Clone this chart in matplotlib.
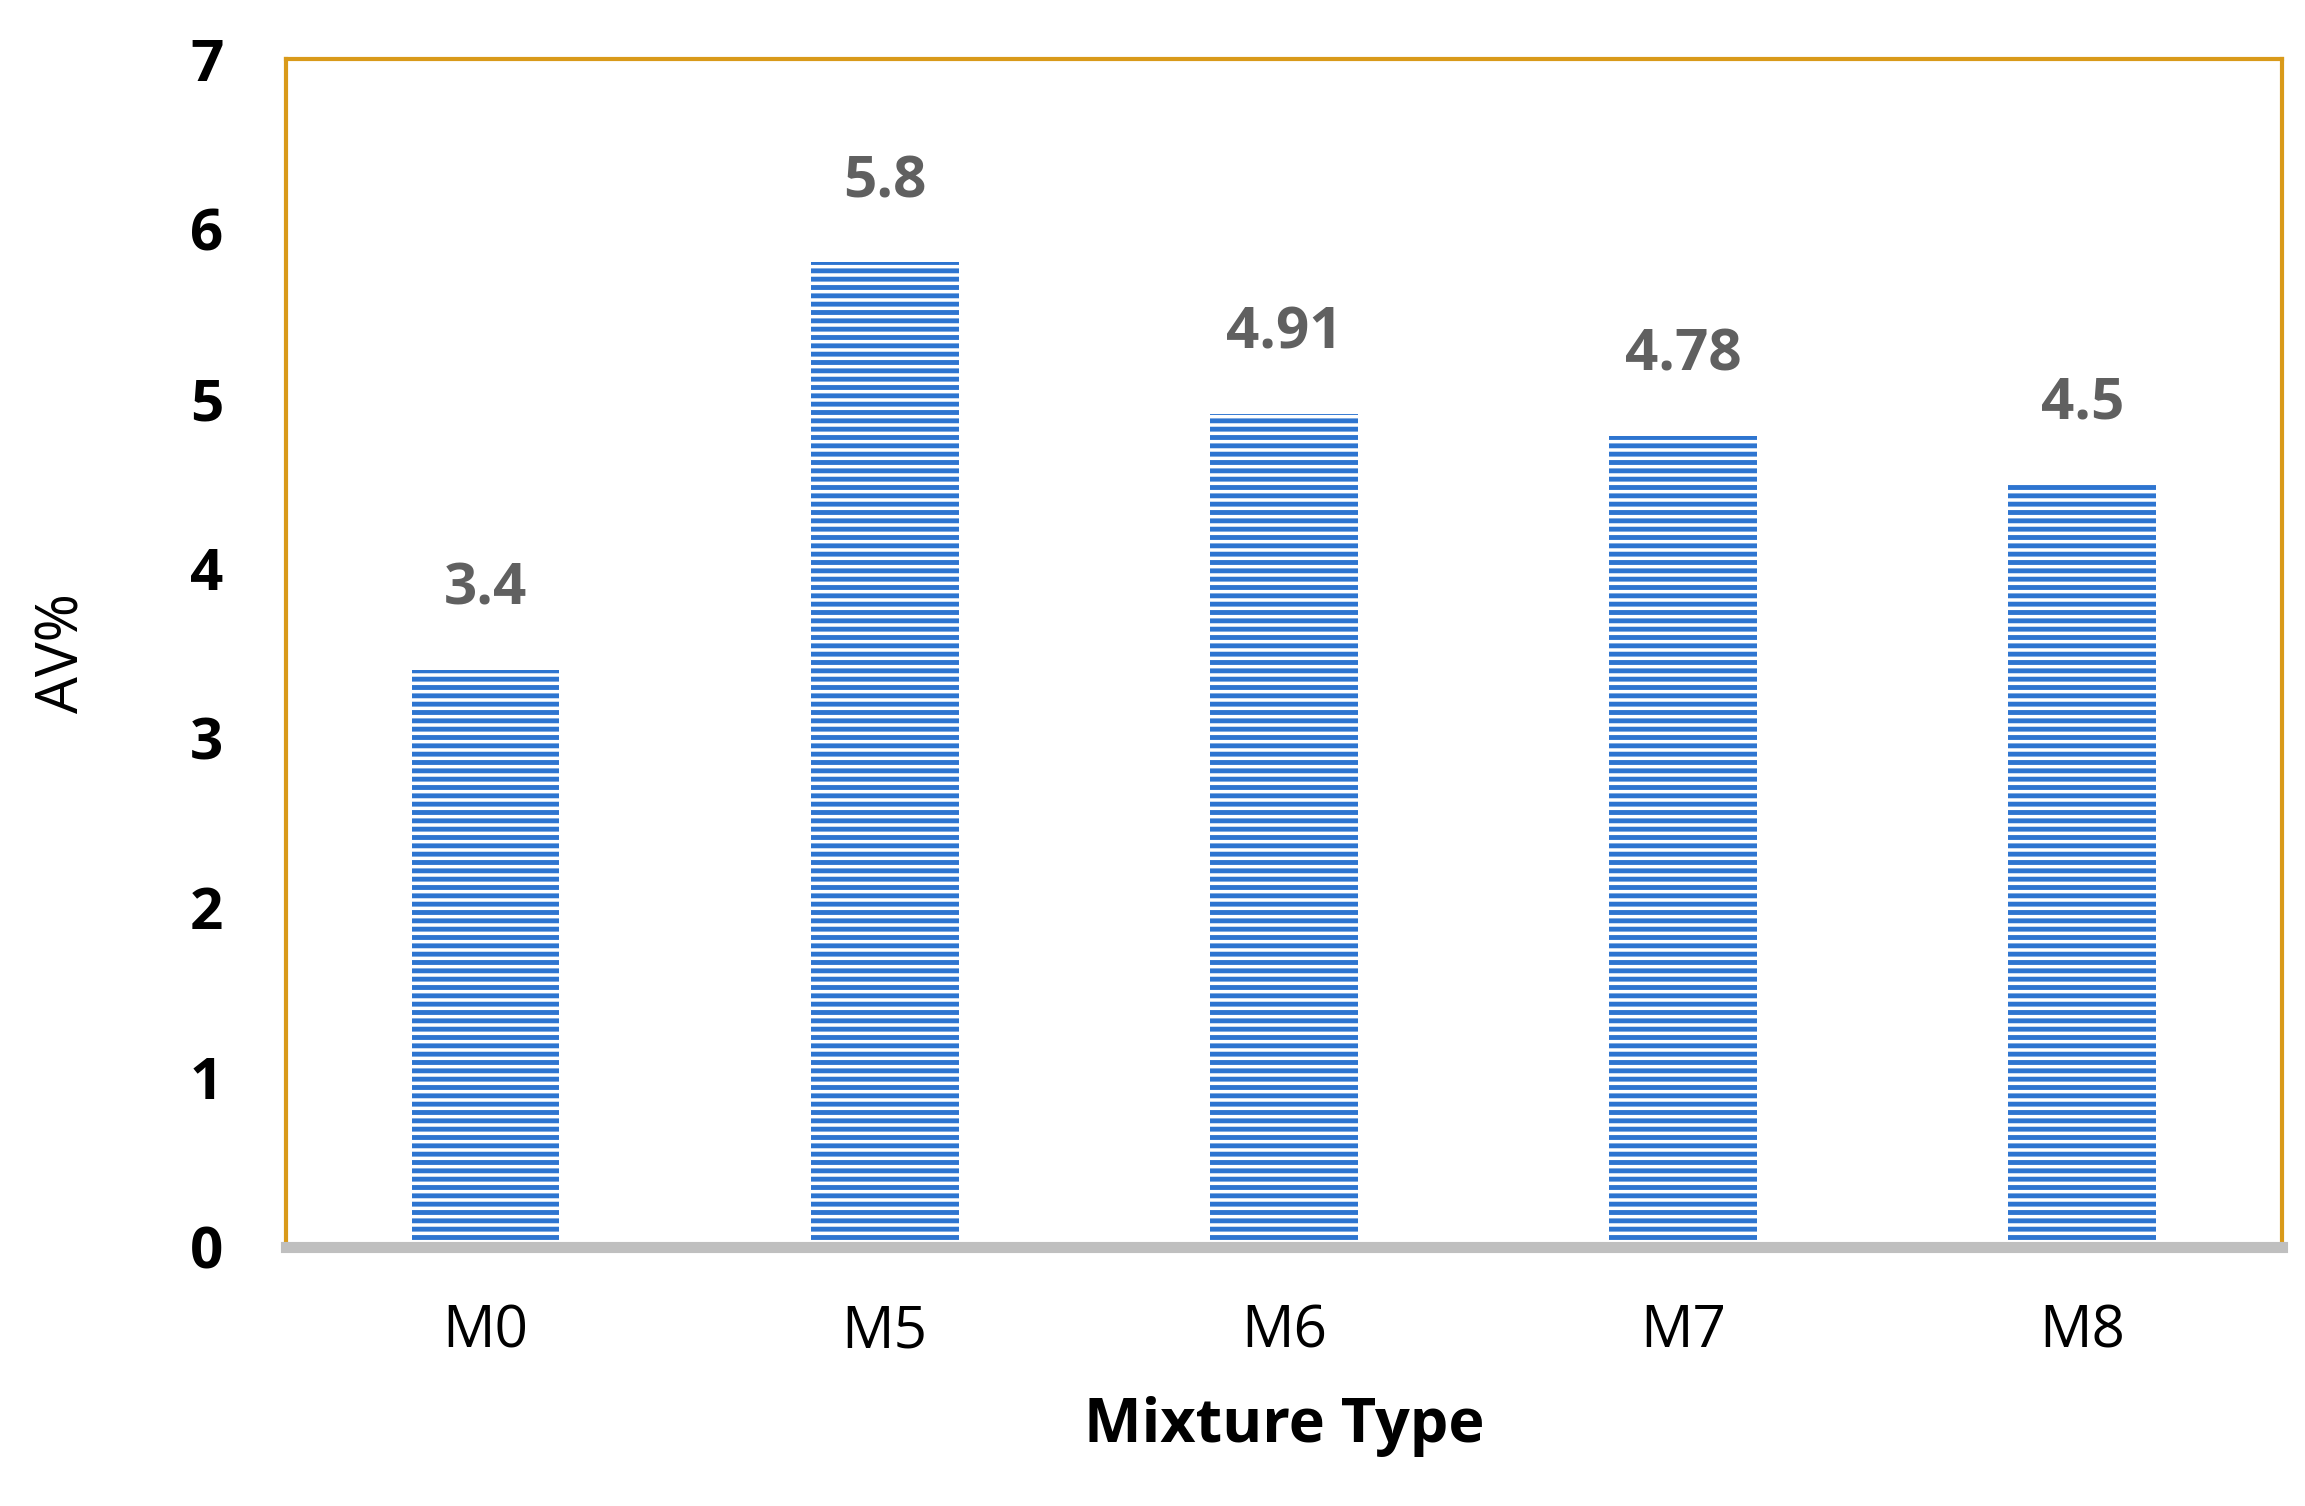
import matplotlib
matplotlib.use("Agg")
import matplotlib.pyplot as plt

# Datos del gráfico
mezclas = ["M0", "M5", "M6", "M7", "M8"]
av_pct = [3.4, 5.8, 4.91, 4.78, 4.5]
etiquetas = ["3.4", "5.8", "4.91", "4.78", "4.5"]

plt.rcParams['font.family'] = ['Open Sans', 'DejaVu Sans']
plt.rcParams['hatch.linewidth'] = 3.5

fig = plt.figure(figsize=(23.05, 15.06), dpi=100)
ax = fig.add_axes([0.124, 0.172, 0.866, 0.789])

x = range(len(mezclas))
barras = ax.bar(x, av_pct, width=0.37, color="white", edgecolor="#2E75D0",
                hatch="--", linewidth=0)

for xi, v, t in zip(x, av_pct, etiquetas):
    ax.text(xi, v + 0.3, t, ha="center", va="bottom", fontsize=42,
            fontweight="bold", color="#606060")

ax.set_ylim(0, 7)
ax.set_xlim(-0.5, 4.5)
ax.set_xticks(list(x))
ax.set_xticklabels(mezclas, fontsize=42)
ax.set_yticks(range(8))
ax.set_yticklabels([str(i) for i in range(8)], fontsize=42, fontweight="bold")
ax.tick_params(length=0, pad=45)
ax.tick_params(axis="x", pad=40)

for lado in ["top", "left", "right"]:
    ax.spines[lado].set_color("#D99A1A")
    ax.spines[lado].set_linewidth(3)
ax.spines["bottom"].set_color("#BFBFBF")
ax.spines["bottom"].set_linewidth(8)

ax.set_ylabel("AV%", fontsize=42, labelpad=70)
ax.set_xlabel("Mixture Type", fontsize=44, fontweight="bold", labelpad=25)

fig.savefig("out.png", dpi=100)
